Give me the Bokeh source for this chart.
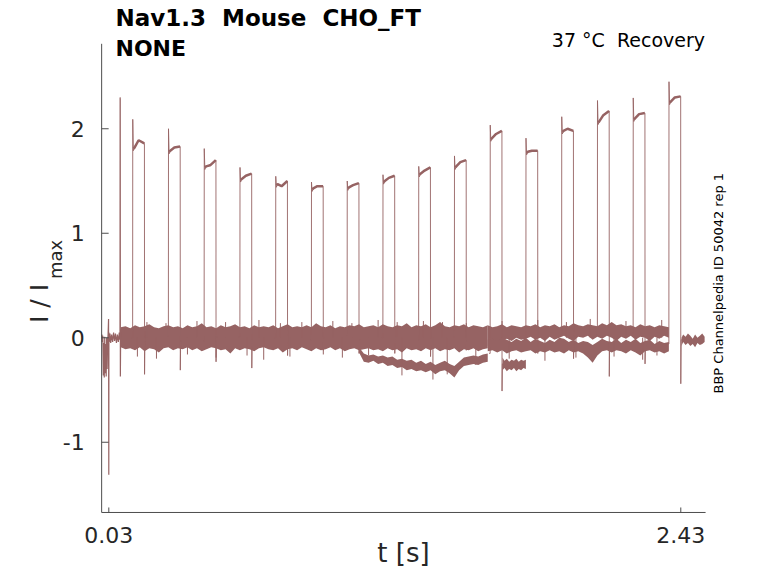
from bokeh.plotting import figure
from bokeh.models import Range1d
from bokeh.core.properties import value
from bokeh.embed import file_html
from bokeh.resources import INLINE

# test pulse of each recovery sweep: onset [s], peak and plateau (start, middle, end) in I/Imax
pulse_on = [0.13, 0.28, 0.43, 0.58, 0.73, 0.88, 1.03, 1.18, 1.33, 1.48, 1.63, 1.78, 1.93, 2.08, 2.23, 2.38]
pulse_len = 0.05
pulse_peak = [2.09, 2.00, 1.81, 1.63, 1.545, 1.49, 1.50, 1.56, 1.64, 1.74, 2.035, 1.91, 2.115, 2.27, 2.295, 2.45]
plateau_start = [1.82, 1.79, 1.64, 1.52, 1.47, 1.43, 1.44, 1.50, 1.57, 1.64, 1.91, 1.78, 1.98, 2.07, 2.10, 2.26]
plateau_mid = [1.89, 1.82, 1.65, 1.55, 1.45, 1.45, 1.46, 1.53, 1.60, 1.68, 1.95, 1.79, 2.00, 2.13, 2.14, 2.30]
plateau_end = [1.86, 1.83, 1.70, 1.57, 1.50, 1.45, 1.48, 1.55, 1.63, 1.70, 1.98, 1.79, 1.98, 2.17, 2.15, 2.31]
off_dip = [-0.35, -0.31, -0.23, -0.29, -0.17, -0.12, -0.15, -0.15, -0.18, -0.12, -0.51, -0.15, -0.20, -0.37, -0.25, -0.44]
base_before = [0.00, 0.02, -0.03, 0.01, 0.00, -0.02, 0.03, 0.00, -0.02, 0.01, -0.15, 0.00, 0.04, 0.03, 0.05, -0.06]
base_after = [0.02, -0.03, 0.01, -0.02, 0.03, 0.00, -0.02, 0.02, 0.00, -0.03, -0.25, -0.05, 0.02, -0.04, -0.08, -0.02]

# common start of all sweeps (conditioning pulse artefacts)
pre_t = [0.001, 0.003, 0.005, 0.007, 0.009, 0.011, 0.013, 0.015, 0.017, 0.019, 0.021, 0.023,
         0.025, 0.027, 0.029, 0.030, 0.0305, 0.032, 0.035, 0.038, 0.042, 0.046, 0.050, 0.054,
         0.058, 0.062, 0.066, 0.070, 0.074, 0.077, 0.0775, 0.078, 0.0785, 0.080, 0.082]
pre_y = [0.03, -0.04, 0.02, -0.36, -0.05, -0.38, 0.01, -0.34, -0.06, -0.37, 0.00, -0.30,
         -0.04, 0.03, 0.18, -1.31, 0.05, -0.04, 0.04, -0.05, 0.03, -0.04, 0.05, -0.03,
         0.04, -0.05, 0.03, -0.04, 0.05, -0.02, 2.30, 2.28, -0.37, 0.08, -0.06]

# envelope of the overlapping baseline noise, all sweeps together
band_t = [0.08, 0.10, 0.12, 0.14, 0.16, 0.18, 0.20, 0.22, 0.24, 0.26, 0.28, 0.30, 0.32,
          0.34, 0.36, 0.38, 0.40, 0.42, 0.44, 0.46, 0.48, 0.50, 0.52, 0.54, 0.56, 0.58,
          0.60, 0.62, 0.64, 0.66, 0.68, 0.70, 0.72, 0.74, 0.76, 0.78, 0.80, 0.82, 0.84,
          0.86, 0.88, 0.90, 0.92, 0.94, 0.96, 0.98, 1.00, 1.02, 1.04, 1.06, 1.08, 1.10,
          1.12, 1.14, 1.16, 1.18, 1.20, 1.22, 1.24, 1.26, 1.28, 1.30, 1.32, 1.34, 1.36,
          1.38, 1.40, 1.42, 1.44, 1.46, 1.48, 1.50, 1.52, 1.54, 1.56, 1.58, 1.60, 1.62]
band_hi = [0.10, 0.11, 0.09, 0.12, 0.10, 0.11, 0.13, 0.10, 0.09, 0.11, 0.12, 0.10, 0.11,
           0.09, 0.12, 0.10, 0.11, 0.14, 0.10, 0.11, 0.09, 0.12, 0.10, 0.11, 0.13, 0.10,
           0.11, 0.09, 0.12, 0.10, 0.11, 0.10, 0.12, 0.09, 0.11, 0.13, 0.10, 0.11, 0.10,
           0.12, 0.10, 0.14, 0.11, 0.10, 0.12, 0.09, 0.11, 0.10, 0.12, 0.11, 0.13, 0.10,
           0.11, 0.12, 0.10, 0.13, 0.11, 0.10, 0.12, 0.11, 0.14, 0.10, 0.12, 0.11, 0.13,
           0.10, 0.12, 0.15, 0.11, 0.10, 0.12, 0.11, 0.13, 0.10, 0.12, 0.11, 0.10, 0.12]
band_lo = [-0.09, -0.11, -0.10, -0.12, -0.09, -0.13, -0.10, -0.11, -0.14, -0.10, -0.09, -0.12, -0.10,
           -0.11, -0.09, -0.12, -0.10, -0.13, -0.11, -0.09, -0.10, -0.12, -0.11, -0.15, -0.10, -0.12,
           -0.10, -0.11, -0.13, -0.10, -0.09, -0.11, -0.12, -0.10, -0.14, -0.11, -0.10, -0.12, -0.09,
           -0.11, -0.13, -0.10, -0.12, -0.11, -0.09, -0.12, -0.10, -0.13, -0.11, -0.10, -0.12, -0.11,
           -0.10, -0.12, -0.11, -0.13, -0.10, -0.12, -0.11, -0.14, -0.10, -0.12, -0.11, -0.13, -0.10,
           -0.12, -0.10, -0.13, -0.11, -0.12, -0.10, -0.14, -0.11, -0.12, -0.10, -0.13, -0.11, -0.10]

# later part: upper and lower groups of sweeps separate
late_t = [1.62, 1.64, 1.66, 1.68, 1.70, 1.72, 1.74, 1.76, 1.78, 1.80, 1.82, 1.84, 1.86,
          1.88, 1.90, 1.92, 1.94, 1.96, 1.98, 2.00, 2.02, 2.04, 2.06, 2.08, 2.10, 2.12,
          2.14, 2.16, 2.18, 2.20, 2.22, 2.24, 2.26, 2.28, 2.30, 2.32, 2.34, 2.36, 2.38]
upper_hi = [0.12, 0.10, 0.11, 0.13, 0.10, 0.12, 0.11, 0.10, 0.12, 0.11, 0.13, 0.10, 0.12,
            0.11, 0.13, 0.10, 0.12, 0.11, 0.14, 0.12, 0.11, 0.13, 0.12, 0.11, 0.14, 0.12,
            0.15, 0.12, 0.13, 0.11, 0.12, 0.10, 0.13, 0.11, 0.12, 0.10, 0.12, 0.11, 0.10]
upper_lo = [-0.08, -0.05, -0.03, -0.03, -0.01, -0.03, 0.00, -0.02, -0.01, 0.01, -0.02, 0.00, -0.03,
            0.01, -0.02, 0.00, 0.02, -0.01, -0.03, 0.01, 0.00, 0.02, -0.02, 0.01, -0.01, 0.02,
            0.00, -0.03, 0.01, -0.01, 0.02, -0.02, 0.01, 0.00, -0.03, 0.01, -0.01, 0.02, 0.00]
lower_hi = [-0.02, -0.01, -0.03, 0.00, -0.02, -0.04, -0.01, -0.03, 0.00, -0.04, -0.01, -0.03, -0.05,
            -0.02, -0.04, 0.00, -0.01, -0.04, -0.02, -0.05, -0.03, -0.04, -0.07, -0.04, -0.01, -0.03,
            -0.04, -0.01, -0.05, -0.02, -0.04, -0.01, -0.05, -0.03, -0.02, -0.06, -0.03, -0.05, -0.04]
lower_lo = [-0.13, -0.12, -0.14, -0.12, -0.15, -0.13, -0.12, -0.14, -0.13, -0.12, -0.15, -0.13, -0.14,
            -0.12, -0.14, -0.13, -0.15, -0.12, -0.14, -0.13, -0.15, -0.19, -0.24, -0.17, -0.13, -0.12,
            -0.14, -0.12, -0.13, -0.15, -0.12, -0.14, -0.17, -0.13, -0.12, -0.14, -0.13, -0.15, -0.13]

# single noise spikes sticking out of the band
spike_up_t = [0.19, 0.27, 0.40, 0.52, 0.66, 0.75, 0.84, 0.97, 1.05, 1.16,
              1.24, 1.35, 1.43, 1.53, 1.68, 1.83, 1.95, 2.05, 2.20, 2.35]
spike_up_y = [0.15, 0.14, 0.16, 0.15, 0.17, 0.14, 0.15, 0.16, 0.14, 0.17,
              0.15, 0.16, 0.15, 0.14, 0.16, 0.17, 0.15, 0.18, 0.16, 0.17]
spike_dn_t = [0.15, 0.23, 0.36, 0.48, 0.61, 0.68, 0.79, 0.93, 1.01, 1.12,
              1.26, 1.39, 1.45, 1.57, 1.71, 1.86, 1.99, 2.15, 2.27, 2.33]
spike_dn_y = [-0.18, -0.20, -0.16, -0.19, -0.17, -0.21, -0.18, -0.16, -0.19, -0.17,
              -0.36, -0.40, -0.35, -0.26, -0.20, -0.22, -0.19, -0.18, -0.21, -0.17]

# one sweep drifting down before and after its test pulse
drift_t = [1.08, 1.10, 1.12, 1.14, 1.16, 1.18, 1.20, 1.22, 1.24, 1.26, 1.28, 1.30, 1.32, 1.34,
           1.36, 1.38, 1.40, 1.42, 1.44, 1.46, 1.48, 1.50, 1.52, 1.54, 1.56, 1.58, 1.60, 1.62]
drift_hi = [-0.09, -0.15, -0.17, -0.16, -0.18, -0.17, -0.19, -0.18, -0.21, -0.20, -0.22, -0.21, -0.24, -0.22,
            -0.25, -0.23, -0.26, -0.24, -0.22, -0.25, -0.27, -0.23, -0.19, -0.18, -0.17, -0.18, -0.16, -0.15]
drift_lo = [-0.14, -0.23, -0.24, -0.22, -0.25, -0.24, -0.27, -0.26, -0.29, -0.28, -0.31, -0.30, -0.32, -0.31,
            -0.33, -0.31, -0.35, -0.32, -0.31, -0.34, -0.38, -0.31, -0.27, -0.26, -0.25, -0.26, -0.24, -0.23]
drift2_t = [1.682, 1.69, 1.70, 1.71, 1.72, 1.73, 1.74, 1.75, 1.76, 1.77, 1.78]
drift2_hi = [-0.19, -0.22, -0.20, -0.23, -0.21, -0.22, -0.20, -0.23, -0.21, -0.22, -0.21]
drift2_lo = [-0.31, -0.29, -0.32, -0.30, -0.31, -0.29, -0.32, -0.30, -0.31, -0.29, -0.30]

# tail of the last sweep
tail_t = [2.433, 2.44, 2.45, 2.46, 2.47, 2.48, 2.49, 2.50, 2.51, 2.52, 2.53]
tail_hi = [0.00, 0.03, 0.01, 0.04, 0.02, -0.01, 0.03, 0.00, 0.02, 0.04, 0.01]
tail_lo = [-0.08, -0.04, -0.07, -0.05, -0.08, -0.06, -0.09, -0.05, -0.07, -0.06, -0.04]

x_ticks = [0.03, 2.43]
x_tick_labels = ["0.03", "2.43"]
y_ticks = [-1, 0, 1, 2]
y_tick_labels = ["-1", "0", "1", "2"]
x_span = (0.0, 2.534)
y_span = (-1.672, 2.813)

trace_color = "#966363"
axis_color = "#4d4d4d"
ink = "#262626"
font = value("DejaVu Sans")

# the frame covers the whole canvas; axes are drawn in data units
W, H = 762, 567
KX, KY = 238.33, 104.5          # pixels per second, pixels per unit
X0 = x_span[0] - 101.15 / KX    # time at the left canvas edge
Y1 = y_span[1] + 43.3 / KY      # value at the top canvas edge


def tx(px):
    return X0 + px / KX


def ty(py):
    return Y1 - py / KY


p = figure(width=W, height=H, output_backend="svg", toolbar_location=None,
           x_range=Range1d(X0, X0 + W / KX), y_range=Range1d(Y1 - H / KY, Y1),
           x_axis_location=None, y_axis_location=None, min_border=0)
p.outline_line_color = None
p.grid.visible = False
p.background_fill_color = "white"
p.border_fill_color = "white"

for bt, lo, hi in [(band_t, band_lo, band_hi), (late_t, upper_lo, upper_hi),
                   (late_t, lower_lo, lower_hi), (drift_t, drift_lo, drift_hi),
                   (drift2_t, drift2_lo, drift2_hi), (tail_t, tail_lo, tail_hi)]:
    p.varea(x=bt, y1=lo, y2=hi, fill_color=trace_color)

p.segment(x0=spike_up_t + spike_dn_t, y0=[0.0] * (len(spike_up_t) + len(spike_dn_t)),
          x1=spike_up_t + spike_dn_t, y1=spike_up_y + spike_dn_y,
          line_color=trace_color, line_width=1)

p.line(pre_t, pre_y, line_color=trace_color, line_width=1.2)

xs, ys, top_xs, top_ys = [], [], [], []
for i, on in enumerate(pulse_on):
    off = on + pulse_len
    xs.append([on - 0.004, on, on + 0.0005, on + 0.003, on + 0.008, on + 0.025, off - 0.0005,
               off, off + 0.0015, off + 0.005])
    ys.append([base_before[i], base_before[i], pulse_peak[i], plateau_start[i] - 0.03,
               plateau_start[i], plateau_mid[i], plateau_end[i], off_dip[i], base_after[i], base_after[i]])
    top_xs.append([on + 0.004, on + 0.008, on + 0.025, off - 0.001])
    top_ys.append([plateau_start[i] - 0.01, plateau_start[i], plateau_mid[i], plateau_end[i]])
p.multi_line(xs, ys, line_color=trace_color, line_width=0.9)
p.multi_line(top_xs, top_ys, line_color=trace_color, line_width=2.5)

# axes: left and bottom lines with inward ticks
p.segment(x0=[x_span[0], x_span[0]], y0=[y_span[0], y_span[0]],
          x1=[x_span[0], x_span[1]], y1=[y_span[1], y_span[0]],
          line_color=axis_color, line_width=1)
p.segment(x0=[x_span[0]] * len(y_ticks), y0=y_ticks,
          x1=[x_span[0] + 7 / KX] * len(y_ticks), y1=y_ticks,
          line_color=axis_color, line_width=1)
p.segment(x0=x_ticks, y0=[y_span[0]] * len(x_ticks),
          x1=x_ticks, y1=[y_span[0] + 5 / KY] * len(x_ticks),
          line_color=axis_color, line_width=1)
p.text(x=[x_span[0] - 17 / KX] * len(y_ticks), y=y_ticks, text=y_tick_labels,
       text_font=font, text_font_size="22px", text_color=ink,
       text_align="right", text_baseline="middle")

# texts placed by the pixel position of their baseline; glyphs are centred
# on the cap height (0.365 em above the baseline)
texts = [
    ("Nav1.3 \u00a0Mouse \u00a0CHO_FT", 115, 26, 23, "bold", "left", 0, "black"),
    ("NONE", 115, 56, 22, "bold", "left", 0, "black"),
    ("37 °C \u00a0Recovery", 704.5, 46.7, 19, "normal", "right", 0, "black"),
    ("BBP Channelpedia ID 50042 rep 1", 722.7, 393, 13, "normal", "left", 1.5708, "black"),
    ("t [s]", 403, 562, 26, "normal", "center", 0, ink),
    ("I / I", 48, 322.5, 25, "normal", "left", 1.5708, ink),
    ("max", 62, 278.5, 18, "normal", "left", 1.5708, ink),
]
for lab, tick in zip(x_tick_labels, x_ticks):
    texts.append((lab, (tick - X0) * KX, 542.7, 22, "normal", "center", 0, ink))

for txt, px, py, size, style, align, ang, col in texts:
    if ang:
        px -= 0.365 * size
    else:
        py -= 0.365 * size
    p.text(x=[tx(px)], y=[ty(py)], text=[txt], angle=ang, text_font=font,
           text_font_size=f"{size}px", text_font_style=style, text_color=col,
           text_align=align, text_baseline="middle")

open("out.html", "w").write(file_html(p, INLINE))
